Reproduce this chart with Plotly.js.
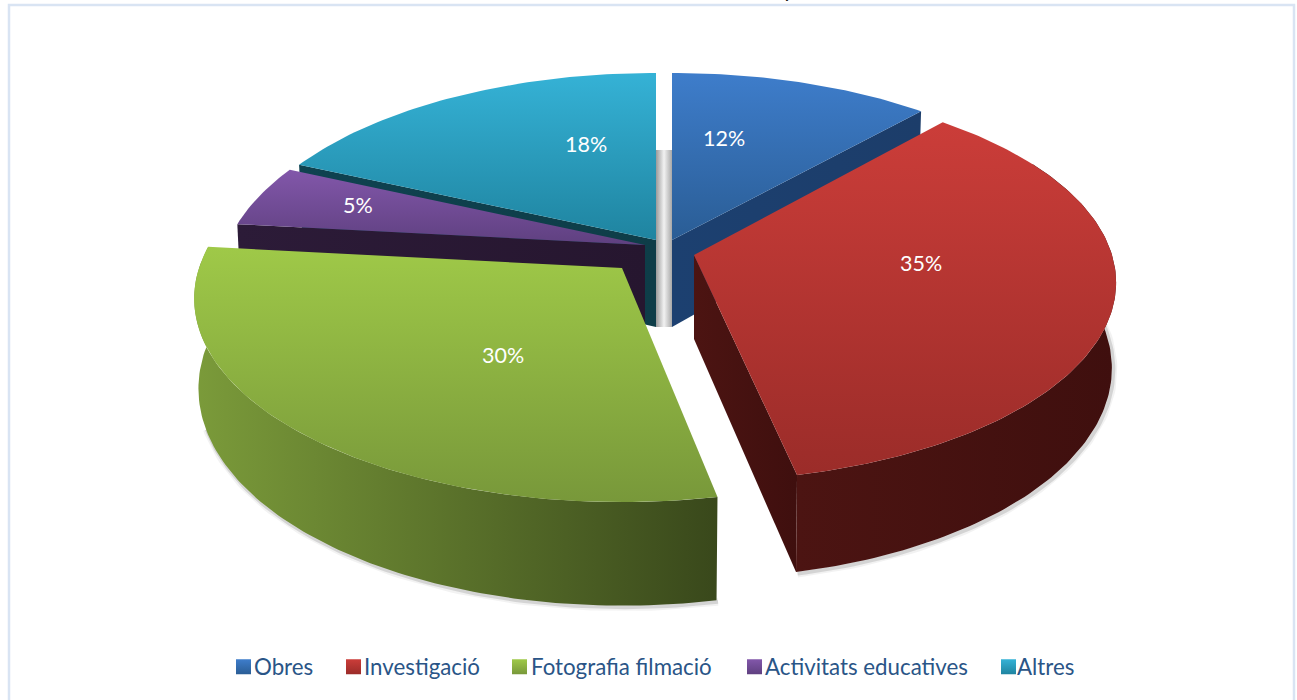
<!DOCTYPE html>
<html><head><meta charset="utf-8">
<script src="https://cdn.plot.ly/plotly-3.0.1.min.js"></script>
<style>html,body{margin:0;padding:0;background:#fff;overflow:hidden}#c{width:1297px;height:700px}</style>
</head><body><div id="c"></div>
<script>
// ---- data ----
const categories = ['Obres','Investigació','Fotografia filmació','Activitats educatives','Altres'];
const values = [12,35,30,5,18];

// ---- styling / layout ----
const apexX = [672,694,622,645,656];
const apexY = [240,255,268,245,240];
const labelX = [724,921,503,358,586];
const labelY = [137.5,262.5,354.5,204.5,143.5];
const legendTextX = [254,364,531,765,1017];
const legendSwatchX = [243.5,353.5,519.5,754.5,1008.5];
const topLight = ['#3e7dcb','#cb3d39','#9fc948','#8257aa','#35b2d6'];
const topDark  = ['#2a5d95','#9b2c29','#78983a','#5f4080','#1f84a0'];
const wallLeft = ['#1c4070','#4c1412','#7b9b3a','#2c1b38','#0f4250'];
const wallRight= ['#1c3d6a','#3f0f0e','#39481b','#26162f','#0e3d48'];
const depthS = [87,84,88,87,87];
const rxS = [420,418,423,418,420];
const aS  = [197,194.5,199,197,197];
const kS  = [0.179,0.139,0.15,0.179,0.179];
const startAdj = [0,-2.1,-0.3,-1,-1];
const stopAdj  = [-1,-1.5,-1,-1,0];

function pt(i, deg, d){
  const t = deg*Math.PI/180, u = Math.sin(t), v = Math.cos(t), p = 1/(1+kS[i]*v);
  const s = d ? 0.99 : 1;
  return [apexX[i] + rxS[i]*u*p*s, apexY[i] - aS[i]*v*p + (d ? depthS[i]*p : 0)];
}
const total = values.reduce((m,n)=>m+n,0);
const start = [], stop = [];
values.reduce((acc,v,i)=>{start[i]=acc*360/total+startAdj[i]; stop[i]=(acc+v)*360/total+stopAdj[i]; return acc+v;},0);

function arc(i,a0,a1,d){
  const out=[], n=Math.max(2,Math.ceil(Math.abs(a1-a0)));
  for(let j=0;j<=n;j++) out.push(pt(i,a0+(a1-a0)*j/n,d));
  return out;
}
function poly(points, grad, line){
  return {type:'scatter',mode:'lines',x:points.map(q=>q[0]).concat(points[0][0]),
    y:points.map(q=>q[1]).concat(points[0][1]),fill:'toself',fillgradient:grad,
    line:line||{width:0.5,color:'rgba(0,0,0,0)'},showlegend:false,hoverinfo:'skip'};
}
function vgrad(c0,c1,y0,y1){return {type:'vertical',colorscale:[[0,c0],[1,c1]],start:y0,stop:y1};}
function hgrad(c0,c1,x0,x1){return {type:'horizontal',colorscale:[[0,c0],[1,c1]],start:x0,stop:x1};}

function topFace(i){
  const rim = arc(i,start[i],stop[i],false);
  const pts = [[apexX[i],apexY[i]]].concat(rim);
  const ys = pts.map(q=>q[1]);
  return poly(pts, vgrad(topLight[i],topDark[i],Math.min(...ys),Math.max(...ys)));
}
function radialWall(i,deg){
  const r0=pt(i,deg,false), r1=pt(i,deg,true);
  const b=[apexX[i],apexY[i]+depthS[i]];
  const pts=[[apexX[i],apexY[i]],r0,r1,b];
  const xs=pts.map(q=>q[0]);
  return poly(pts, hgrad(wallLeft[i],wallRight[i],Math.min(...xs),Math.max(...xs)));
}
function outerWall(i,a0,a1){
  const pts = arc(i,a0,a1,false).concat(arc(i,a1,a0,true));
  const xs=pts.map(q=>q[0]);
  return poly(pts, hgrad(wallLeft[i],wallRight[i],Math.min(...xs),Math.max(...xs)));
}
function shadow(i,a0,a1,dx,dy,w,alpha){
  const pts = arc(i,a0,a1,true);
  return {type:'scatter',mode:'lines',x:pts.map(q=>q[0]+dx),y:pts.map(q=>q[1]+dy),
    line:{width:w,color:'rgba(0,0,0,'+alpha+')'},showlegend:false,hoverinfo:'skip'};
}

const traces = [];
traces.push(poly([[656,150],[672,150],[672,327],[656,327]],
  {type:'horizontal',colorscale:[[0,'#9a9a9a'],[0.5,'#f2f2f2'],[1,'#a8a8a8']],start:656,stop:672}));
[[1,60,stop[1]],[2,start[2],stop[2]-25]].forEach(s=>{
  traces.push(shadow(s[0],s[1],s[2],1.5,1.5,8,0.05));
  traces.push(shadow(s[0],s[1],s[2],1.5,1.5,4,0.12));
});
traces.push(radialWall(4,start[4]), topFace(4));
traces.push(radialWall(0,stop[0]), topFace(0));
traces.push(radialWall(3,start[3]), topFace(3));
traces.push(radialWall(1,stop[1]), outerWall(1,60,stop[1]), topFace(1));
traces.push(outerWall(2,start[2],stop[2]), topFace(2));

const legendLayout = {};
categories.forEach((c,i)=>{
  const id = i===0 ? 'legend' : 'legend'+(i+1);
  traces.push({type:'scatter',mode:'markers',x:[null],y:[null],name:c,legend:id,showlegend:true,
    marker:{symbol:'square',size:15,color:topLight[i],gradient:{type:'vertical',color:topDark[i]}},hoverinfo:'skip'});
  legendLayout[id] = {x:(legendTextX[i]-40)/1297,xanchor:'left',y:0.0475,yanchor:'middle',
    font:{family:'Lato, sans-serif',size:22.3,color:'#2a5587'},bgcolor:'rgba(0,0,0,0)'};
});

const annotations = values.map((v,i)=>({x:labelX[i],y:labelY[i],xref:'x',yref:'y',text:v+'%',showarrow:false,
  font:{family:'Lato, sans-serif',size:21.5,color:'#ffffff'}}));
annotations.push({x:789,y:0,xref:'x',yref:'y',yanchor:'bottom',text:'y',showarrow:false,yshift:-4,
  font:{family:'Lato, sans-serif',size:22,color:'#111111'}});

Plotly.newPlot('c',traces,Object.assign({
  width:1297,height:700,margin:{l:0,r:0,t:0,b:0},paper_bgcolor:'#fff',plot_bgcolor:'#fff',
  xaxis:{range:[0,1297],visible:false,fixedrange:true},
  yaxis:{range:[700,0],visible:false,fixedrange:true},
  showlegend:true,
  annotations:annotations,
  shapes:[{type:'rect',xref:'x',yref:'y',x0:9,y0:5,x1:1294,y1:712,line:{color:'#d9e4f3',width:2.5},layer:'below'}]
},legendLayout),{displayModeBar:false,staticPlot:true}).then(()=>{
  // close the gap between each legend swatch and its label
  categories.forEach((c,i)=>{
    const id = i===0 ? 'legend' : 'legend'+(i+1);
    const g = document.querySelector('.'+id+' .legendsymbols');
    if(g) g.setAttribute('transform','translate('+(legendSwatchX[i]-(legendTextX[i]-20))+',0)');
  });
});
</script></body></html>
